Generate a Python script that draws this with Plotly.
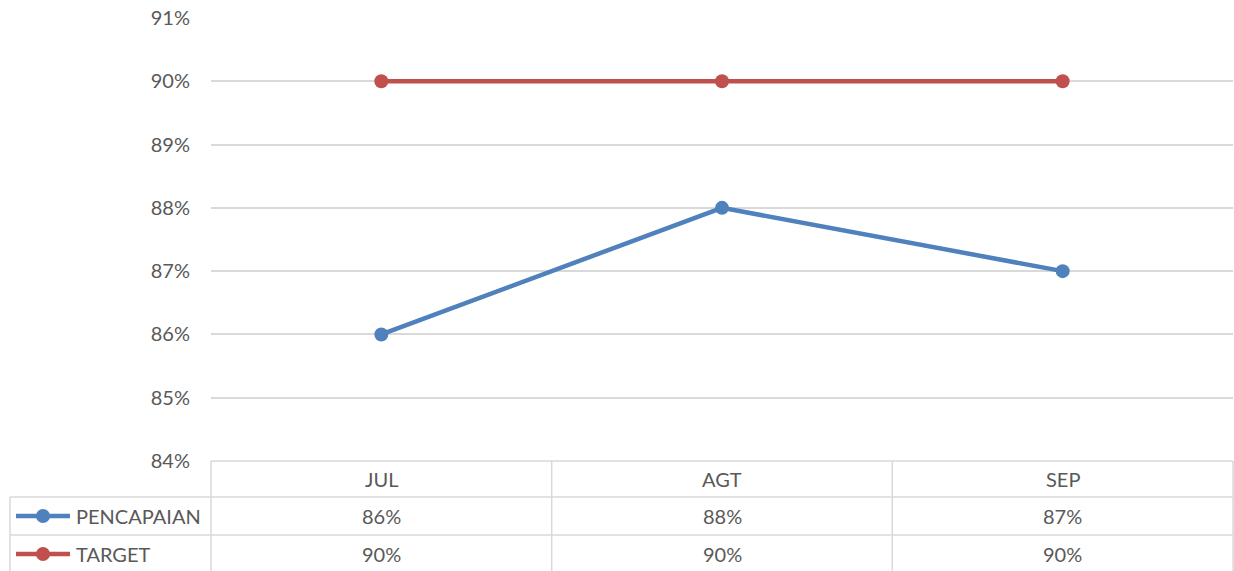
import plotly.graph_objects as go

months = ["JUL", "AGT", "SEP"]
pencapaian = [0.86, 0.88, 0.87]
target = [0.90, 0.90, 0.90]
series_names = ["PENCAPAIAN", "TARGET"]
series_colors = ["#4f81bd", "#c0504d"]
y_ticks = [0.84, 0.85, 0.86, 0.87, 0.88, 0.89, 0.90, 0.91]

W, H = 1234, 571
L, R, T, B = 211, 1, 18, 110
PW, PH = W - L - R, H - T - B
FONT = "Lato"
FS = 20
TXT = "#595959"
GRID = "#d9d9d9"

def px(X):
    return (X - L) / PW

def py(Y):
    return (H - B - Y) / PH

fig = go.Figure()
for name, vals, col in zip(series_names, [pencapaian, target], series_colors):
    fig.add_trace(go.Scatter(
        x=months, y=vals, name=name, mode="lines+markers",
        line=dict(color=col, width=4.5),
        marker=dict(color=col, size=14),
        showlegend=False, cliponaxis=False,
    ))

shapes = []
def hline(x0, x1, Y):
    shapes.append(dict(type="line", xref="paper", yref="paper",
                       x0=px(x0), x1=px(x1), y0=py(Y), y1=py(Y),
                       line=dict(color=GRID, width=1.5), layer="below"))
def vline(X, y0, y1):
    shapes.append(dict(type="line", xref="paper", yref="paper",
                       x0=px(X), x1=px(X), y0=py(y0), y1=py(y1),
                       line=dict(color=GRID, width=1.5), layer="below"))

row_y = [461, 497, 535, 573]
hline(211, 1233, 461)
hline(10, 1233, 497)
hline(10, 1233, 535)
for X in [211, 551.7, 892.3, 1233]:
    vline(X, 461, 573)
vline(10, 497, 573)

annotations = []
for i, m in enumerate(months):
    annotations.append(dict(x=m, xref="x", y=py(479), yref="paper", text=m,
                            showarrow=False, xanchor="center", yanchor="middle",
                            font=dict(family=FONT, size=FS, color=TXT)))
for r, (vals, name, col) in enumerate(zip([pencapaian, target], series_names, series_colors)):
    yc = (row_y[r + 1] + row_y[r + 2]) / 2
    for m, v in zip(months, vals):
        annotations.append(dict(x=m, xref="x", y=py(yc), yref="paper",
                                text=f"{v*100:.0f}%", showarrow=False,
                                xanchor="center", yanchor="middle",
                                font=dict(family=FONT, size=FS, color=TXT)))
    annotations.append(dict(x=px(74), xref="paper", y=py(yc), yref="paper",
                            text=name, showarrow=False, xanchor="left", yanchor="middle",
                            font=dict(family=FONT, size=FS, color=TXT)))
    shapes.append(dict(type="line", xref="paper", yref="paper",
                       x0=px(16), x1=px(70), y0=py(yc), y1=py(yc),
                       line=dict(color=col, width=4.5)))
    shapes.append(dict(type="circle", xref="paper", yref="paper",
                       x0=px(36), x1=px(50), y0=py(yc - 7), y1=py(yc + 7),
                       fillcolor=col, line=dict(color=col, width=0)))

fig.update_layout(
    width=W, height=H,
    margin=dict(l=L, r=R, t=T, b=B),
    paper_bgcolor="white", plot_bgcolor="white",
    showlegend=False,
    xaxis=dict(type="category", range=[-0.5, 2.5], showticklabels=False,
               showgrid=False, zeroline=False, showline=False),
    yaxis=dict(range=[0.84, 0.91], tickvals=y_ticks, tickformat=".0%",
               showgrid=True, gridcolor=GRID, gridwidth=1.5, zeroline=False,
               showline=False, ticks="", ticklabelstandoff=20,
               tickfont=dict(family=FONT, size=FS, color=TXT)),
    shapes=shapes,
    annotations=annotations,
)

fig.write_html("out.html", config={"displayModeBar": False},
               post_script="document.body.style.margin='0';document.body.style.overflow='hidden';")
